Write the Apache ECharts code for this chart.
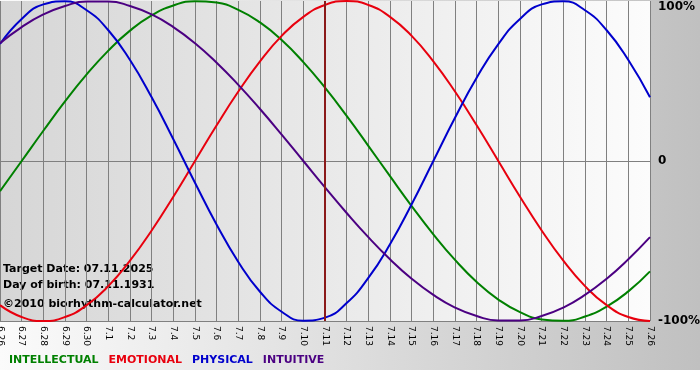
<!DOCTYPE html>
<html>
<head>
<meta charset="utf-8">
<script src="https://cdn.jsdelivr.net/npm/echarts@6/dist/echarts.min.js"></script>
<style>
  html, body { margin: 0; padding: 0; background: #fff; }
  #main { width: 700px; height: 380px; }
</style>
</head>
<body>
<div id="main"></div>
<script>
// days shown on the x axis (month.day)
var days = ['6.26','6.27','6.28','6.29','6.30','7.1','7.2','7.3','7.4','7.5','7.6','7.7','7.8','7.9','7.10',
  '7.11','7.12','7.13','7.14','7.15','7.16','7.17','7.18','7.19','7.20','7.21','7.22','7.23','7.24','7.25','7.26'];
var targetDay = '7.11';

// values in percent, one per day
var intellectual = [-18.9, 0, 18.9, 37.2, 54.1, 69.0, 81.5, 91.0, 97.2, 99.9, 99.0, 94.5, 86.6, 75.6, 61.8,
  45.8, 28.2, 9.5, -9.5, -28.2, -45.8, -61.8, -75.6, -86.6, -94.5, -99.0, -99.9, -97.2, -91.0, -81.5, -69.0];
var emotional = [-90.1, -97.5, -100, -97.5, -90.1, -78.2, -62.3, -43.4, -22.3, 0, 22.3, 43.4, 62.3, 78.2, 90.1,
  97.5, 100, 97.5, 90.1, 78.2, 62.3, 43.4, 22.3, 0, -22.3, -43.4, -62.3, -78.2, -90.1, -97.5, -100];
var physical = [73.1, 88.8, 97.9, 99.8, 94.2, 81.7, 63.1, 39.8, 13.6, -13.6, -39.8, -63.1, -81.7, -94.2, -99.8,
  -97.9, -88.8, -73.1, -52.0, -27.0, 0, 27.0, 52.0, 73.1, 88.8, 97.9, 99.8, 94.2, 81.7, 63.1, 39.8];
var intuitive = [73.6, 83.7, 91.6, 96.9, 99.7, 99.7, 96.9, 91.6, 83.7, 73.6, 61.4, 47.6, 32.5, 16.5, 0,
  -16.5, -32.5, -47.6, -61.4, -73.6, -83.7, -91.6, -96.9, -99.7, -99.7, -96.9, -91.6, -83.7, -73.6, -61.4, -47.6];

var names = ['INTELLECTUAL', 'EMOTIONAL', 'PHYSICAL', 'INTUITIVE'];
var colors = ['#008000', '#e8000e', '#0000cc', '#4b0082'];
var values = [intellectual, emotional, physical, intuitive];

var font = 'DejaVu Sans, Verdana, sans-serif';
var myChart = echarts.init(document.getElementById('main'));

var series = [];
for (var i = 0; i < names.length; i++) {
  series.push({
    name: names[i],
    type: 'line',
    data: values[i],
    smooth: true,
    symbol: 'none',
    lineStyle: { color: colors[i], width: 2 },
    itemStyle: { color: colors[i] }
  });
}
// target day marker
series[0].markLine = {
  silent: true,
  symbol: 'none',
  label: { show: false },
  lineStyle: { color: '#8b1a1a', width: 2, type: 'solid' },
  data: [{ xAxis: targetDay }]
};

var legendData = [];
for (var j = 0; j < names.length; j++) {
  legendData.push({ name: names[j], textStyle: { color: colors[j] } });
}

var option = {
  animation: false,
  backgroundColor: new echarts.graphic.LinearGradient(0, 0, 1, 0, [
    { offset: 0, color: '#fbfbfb' },
    { offset: 1, color: '#c0c0c0' }
  ]),
  grid: {
    left: 0, right: 50, top: 1, bottom: 59,
    outerBoundsMode: 'none',
    containLabel: false,
    show: true,
    borderWidth: 0,
    backgroundColor: new echarts.graphic.LinearGradient(0, 0, 1, 0, [
      { offset: 0, color: '#d6d6d6' },
      { offset: 1, color: '#fcfcfc' }
    ])
  },
  legend: {
    data: legendData,
    left: 3, top: 355,
    padding: 0,
    itemWidth: 0, itemHeight: 0,
    itemGap: 4,
    selectedMode: false,
    textStyle: { fontFamily: font, fontSize: 11, fontWeight: 'bold' }
  },
  xAxis: {
    type: 'category',
    data: days,
    boundaryGap: false,
    axisLine: { show: true, lineStyle: { color: '#808080', width: 1 } },
    axisTick: { show: true, length: 4, interval: 0, lineStyle: { color: '#808080' } },
    splitLine: { show: true, interval: 0, lineStyle: { color: '#808080', width: 1 } },
    axisLabel: { interval: 0, rotate: -90, margin: 5, color: '#000', fontFamily: font, fontSize: 9 }
  },
  yAxis: {
    type: 'value',
    position: 'right',
    min: -100, max: 100, interval: 100,
    axisLine: { show: false },
    axisTick: { show: false },
    splitLine: { show: true, lineStyle: { color: ['#808080', '#808080', 'rgba(0,0,0,0)'], width: 1 } },
    axisLabel: {
      margin: 8,
      color: '#000',
      fontFamily: font,
      fontSize: 12,
      fontWeight: 'bold',
      verticalAlignMaxLabel: 'top',
      formatter: function (v) { return v === 0 ? '0' : v + '%'; }
    }
  },
  graphic: [
    { type: 'rect', left: 0, top: 370, shape: { width: 700, height: 10 }, style: { fill: '#ffffff' } },
    { type: 'text', left: 3, top: 264, style: { text: 'Target Date: 07.11.2025', font: 'bold 11px ' + font, fill: '#000' } },
    { type: 'text', left: 3, top: 280, style: { text: 'Day of birth: 07.11.1931', font: 'bold 11px ' + font, fill: '#000' } },
    { type: 'text', left: 3, top: 299, style: { text: '\u00a92010 biorhythm-calculator.net', font: 'bold 11px ' + font, fill: '#000' } }
  ],
  series: series
};
myChart.setOption(option);
</script>
</body>
</html>
